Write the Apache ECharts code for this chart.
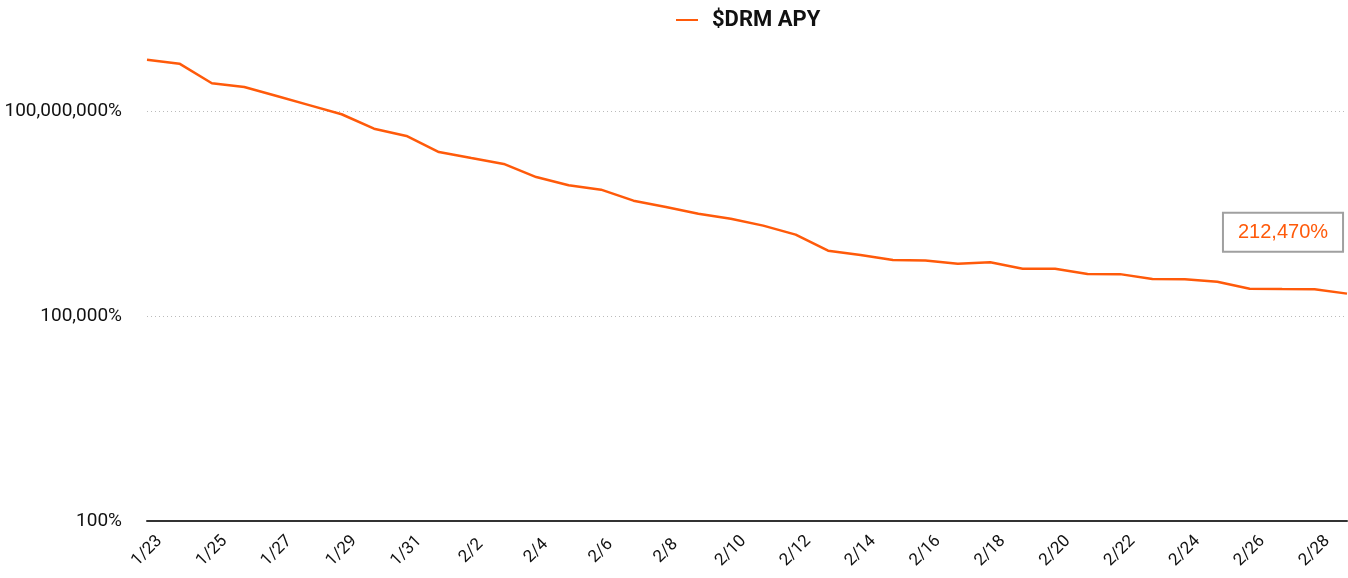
<!DOCTYPE html>
<html>
<head>
<meta charset="utf-8">
<script src="https://cdn.jsdelivr.net/npm/echarts@6/dist/echarts.min.js"></script>
<style>
html,body{margin:0;padding:0;background:#fff;}
#chart{width:1348px;height:578px;}
</style>
</head>
<body>
<div id="chart"></div>
<script>
const categories = ['1/23','1/24','1/25','1/26','1/27','1/28','1/29','1/30','1/31',
  '2/1','2/2','2/3','2/4','2/5','2/6','2/7','2/8','2/9','2/10','2/11','2/12','2/13','2/14',
  '2/15','2/16','2/17','2/18','2/19','2/20','2/21','2/22','2/23','2/24','2/25','2/26','2/27','2/28','3/1'];
// APY in percent
const apyPct = [564000000, 493000000, 255000000, 225000000, 166000000, 122000000, 89600000,
  55100000, 43100000, 25100000, 20500000, 16800000, 10800000, 8180000, 7060000, 4870000,
  3940000, 3140000, 2650000, 2100000, 1550000, 904000, 782000, 661000, 649000, 583000,
  611000, 492000, 490000, 412000, 410000, 348000, 346000, 318000, 251000, 248000, 246000, 212470];
const seriesName = '$DRM APY';
const yTickPct = [100, 100000, 100000000];

const fmt = v => Math.round(v).toLocaleString('en-US');
const lastIdx = apyPct.length - 1;
const seriesData = apyPct.map((v, i) => {
  const d = { value: v / 100 };
  if (i === lastIdx) {
    d.label = {
      show: true,
      position: 'top',
      distance: 0,
      offset: [-64, -43],
      formatter: fmt(v) + '%',
      color: '#ff5a0a',
      fontFamily: 'Liberation Sans',
      fontSize: 20,
      backgroundColor: '#fff',
      borderColor: '#a0a0a0',
      borderWidth: 2,
      padding: [9, 14, 8, 14]
    };
  }
  return d;
});

const chart = echarts.init(document.getElementById('chart'), null, { renderer: 'canvas' });
chart.setOption({
  animation: false,
  backgroundColor: '#fff',
  textStyle: { fontFamily: 'Roboto' },
  legend: {
    top: 4,
    left: 671,
    itemWidth: 22,
    itemHeight: 14,
    icon: 'path://M0,6 L22,6 L22,8 L0,8 Z',
    textStyle: { fontSize: 22, fontWeight: 'bold', color: '#111', fontFamily: 'Roboto', padding: [0, 0, 0, 9] },
    data: [seriesName]
  },
  grid: { left: 147, right: 1, top: 111, bottom: 57, containLabel: false },
  xAxis: {
    type: 'category',
    data: categories,
    boundaryGap: false,
    axisLine: { lineStyle: { color: '#333', width: 2 } },
    axisTick: { show: false },
    axisLabel: {
      interval: 1, rotate: 45, fontSize: 17, color: '#111', margin: 30,
      align: 'center', verticalAlign: 'middle', fontFamily: 'Roboto'
    },
    splitLine: { show: false }
  },
  yAxis: {
    type: 'log',
    logBase: 1000,
    min: yTickPct[0] / 100,
    max: yTickPct[yTickPct.length - 1] / 100,
    axisLine: { show: false },
    axisTick: { show: false },
    axisLabel: {
      fontSize: 19, color: '#111', margin: 25, fontFamily: 'Roboto',
      formatter: v => fmt(v * 100) + '%'
    },
    splitLine: { show: true, lineStyle: { color: '#bbb', type: [1, 3], width: 1 } }
  },
  series: [{
    name: seriesName,
    type: 'line',
    data: seriesData,
    clip: false,
    symbol: 'circle',
    symbolSize: 0,
    showSymbol: true,
    lineStyle: { color: '#ff5a0a', width: 2.5 },
    itemStyle: { color: '#ff5a0a' }
  }]
});
</script>
</body>
</html>
